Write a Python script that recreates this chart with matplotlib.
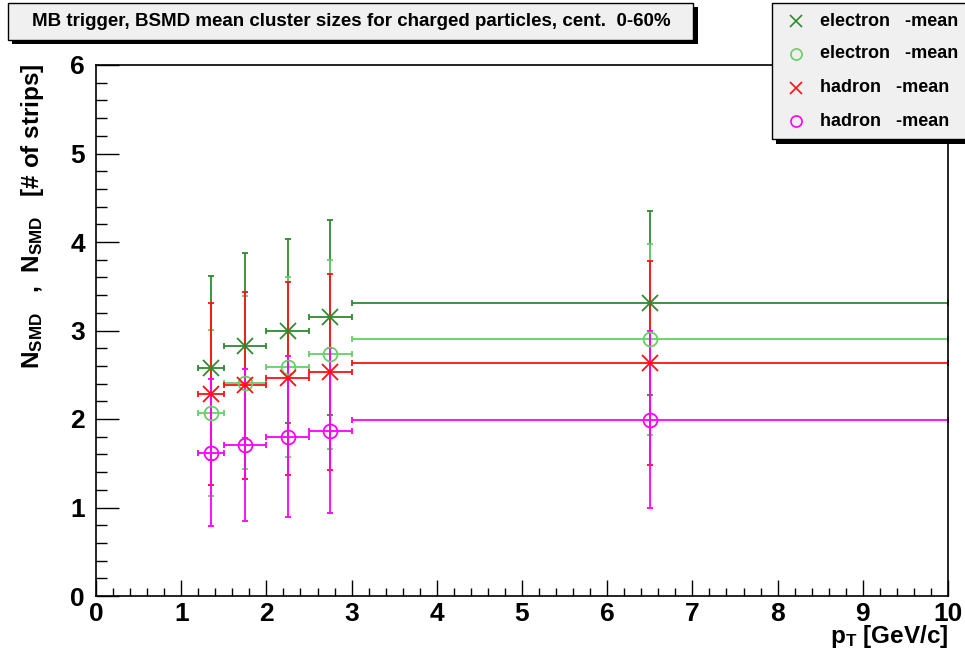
import matplotlib
matplotlib.use("Agg")
import matplotlib.pyplot as plt
from matplotlib.patches import Rectangle
from matplotlib.lines import Line2D
from matplotlib.ticker import MultipleLocator

plt.rcParams['font.family'] = ['Liberation Sans', 'DejaVu Sans']
plt.rcParams['font.weight'] = 'bold'
plt.rcParams['mathtext.fontset'] = 'custom'
plt.rcParams['mathtext.rm'] = 'Liberation Sans:bold'
plt.rcParams['mathtext.bf'] = 'Liberation Sans:bold'
plt.rcParams['mathtext.it'] = 'Liberation Sans:bold'

# pT bins (centres and half widths)
pt = [1.35, 1.75, 2.25, 2.75, 6.5]
pt_err = [0.15, 0.25, 0.25, 0.25, 3.5]

# mean cluster sizes with errors
elec_x = [2.58, 2.83, 2.99, 3.15, 3.31]
elec_x_err = [1.04, 1.05, 1.04, 1.10, 1.04]
elec_o = [2.07, 2.41, 2.59, 2.73, 2.90]
elec_o_err = [0.94, 0.98, 1.02, 1.07, 1.08]
had_x = [2.28, 2.38, 2.46, 2.53, 2.63]
had_x_err = [1.03, 1.06, 1.09, 1.11, 1.15]
had_o = [1.62, 1.71, 1.80, 1.87, 1.99]
had_o_err = [0.83, 0.86, 0.91, 0.93, 1.00]

labels = ['electron   -mean', 'electron   -mean', 'hadron   -mean', 'hadron   -mean']
colors = ['#2e8b2e', '#66d066', '#ff1010', '#ff00ff']
markers = ['x', 'o', 'x', 'o']

W, H = 965, 656


def fx(x):
    return x / W


def fy(y):
    return 1 - y / H


fig = plt.figure(figsize=(9.65, 6.56), dpi=100)
ax = fig.add_axes([fx(96), fy(596), fx(948) - fx(96), fy(65) - fy(596)])

series = [(elec_x, elec_x_err), (elec_o, elec_o_err), (had_x, had_x_err), (had_o, had_o_err)]
for (vals, errs), col, mk in zip(series, colors, markers):
    ax.errorbar(pt, vals, xerr=pt_err, yerr=errs, fmt=mk, color=col, ecolor=col,
                mfc='none', mec=col, ms=10 if mk == 'o' else 11, mew=1.3,
                elinewidth=1.3, capsize=2.5, capthick=1.3, clip_on=True)

ax.set_xlim(0, 10)
ax.set_ylim(0, 6)
ax.xaxis.set_major_locator(MultipleLocator(1))
ax.xaxis.set_minor_locator(MultipleLocator(0.2))
ax.yaxis.set_major_locator(MultipleLocator(1))
ax.yaxis.set_minor_locator(MultipleLocator(0.2))
ax.tick_params(axis='x', which='major', direction='in', length=11.5, width=1, labelsize=19, pad=4)
ax.tick_params(axis='x', which='minor', direction='in', length=5.8, width=1)
ax.tick_params(axis='y', which='major', direction='in', length=16.5, width=1, labelsize=19, pad=8)
ax.tick_params(axis='y', which='minor', direction='in', length=8, width=1)
for lab in ax.get_xticklabels() + ax.get_yticklabels():
    lab.set_fontweight('bold')
for sp in ax.spines.values():
    sp.set_linewidth(1.2)

# axis titles
fig.text(fx(948), fy(637), r'$\mathbf{p_{T}}$ [GeV/c]', ha='right', va='center',
         fontsize=17.5, fontweight='bold')
fig.text(fx(33), fy(63), r'$\mathbf{N_{SMD}}$   ,  $\mathbf{N_{SMD}}$   [# of strips]',
         rotation=90, ha='center', va='top', fontsize=17.5, fontweight='bold')

# title box with shadow
fig.patches.append(Rectangle((fx(12), fy(44)), fx(686), fy(6) - fy(43), transform=fig.transFigure,
                             facecolor='black', edgecolor='none', zorder=1))
fig.patches.append(Rectangle((fx(8), fy(40)), fx(685), fy(3) - fy(40), transform=fig.transFigure,
                             facecolor='#f0f0f0', edgecolor='black', lw=1, zorder=2))
fig.text(fx(351), fy(21), 'MB trigger, BSMD mean cluster sizes for charged particles, cent.  0-60%',
         ha='center', va='center', fontsize=13.5, fontweight='bold', zorder=3)

# legend box with shadow
fig.patches.append(Rectangle((fx(776), fy(144)), fx(200), fy(8) - fy(144), transform=fig.transFigure,
                             facecolor='black', edgecolor='none', zorder=1))
fig.patches.append(Rectangle((fx(772), fy(139)), fx(200), fy(3) - fy(139), transform=fig.transFigure,
                             facecolor='#f0f0f0', edgecolor='black', lw=1, zorder=2))
rows = [21, 54, 88, 121]
for lab, col, mk, ry in zip(labels, colors, markers, rows):
    fig.add_artist(Line2D([fx(796)], [fy(ry)], marker=mk, color=col, mfc='none', mec=col,
                          ms=8 if mk == 'o' else 9, mew=1.2, linestyle='none',
                          transform=fig.transFigure, zorder=3))
    fig.text(fx(820), fy(ry), lab, ha='left', va='center', fontsize=13,
             fontweight='bold', zorder=3)

fig.savefig('out.png', dpi=100, facecolor='white')
